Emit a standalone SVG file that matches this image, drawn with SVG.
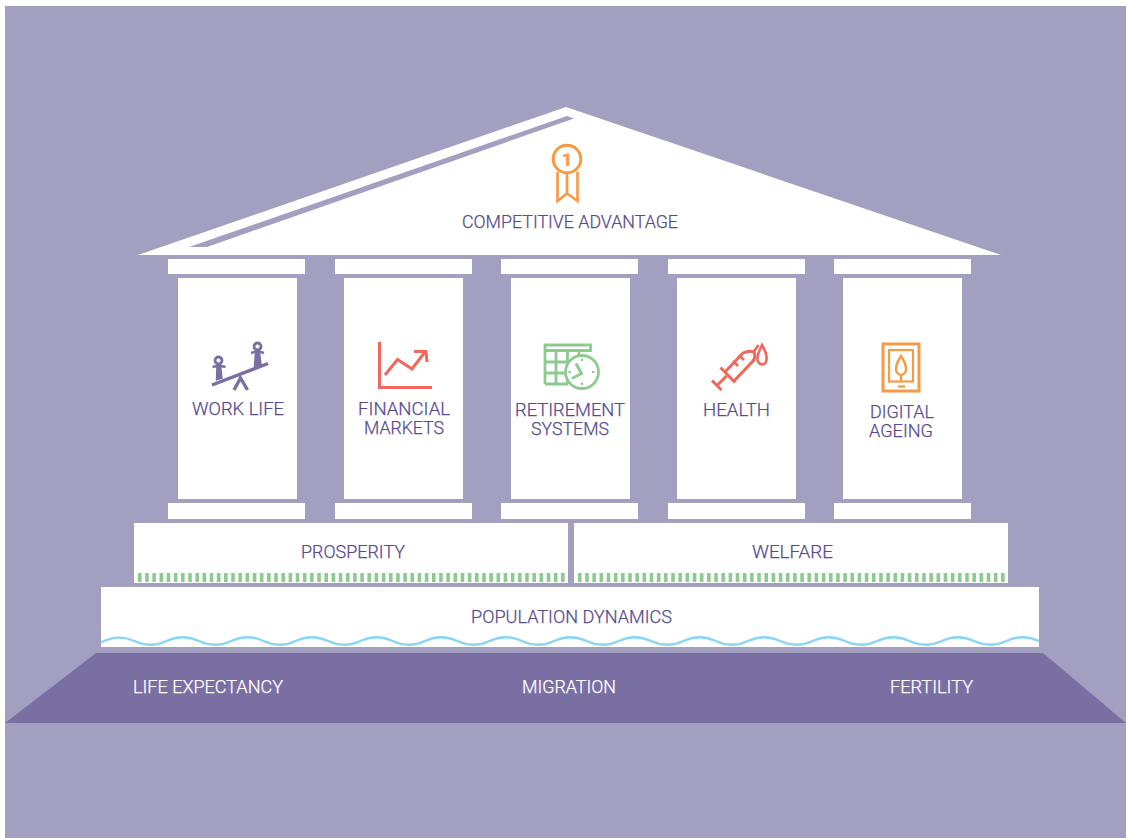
<svg xmlns="http://www.w3.org/2000/svg" width="1126" height="838" viewBox="0 0 1126 838">
<style>
.w{fill:#fff}
.bg{fill:#a39fc1}
text{font-family:"Roboto","Liberation Sans",sans-serif;font-weight:300;font-size:18px;fill:#574a8f;stroke:#574a8f;stroke-width:.25}
text.f{fill:#fff;stroke:#fff}
.i{fill:none;stroke-linecap:butt;stroke-linejoin:miter}
.p{stroke:#7a6fa3;stroke-width:3.4}
.r{stroke:#f2675c;stroke-width:3}
.g{stroke:#8ccb8e;stroke-width:2.8}
.o{stroke:#f79a45;stroke-width:3}
.h{fill:none;stroke:#8ccb8e;stroke-width:9;stroke-dasharray:3.6 3.57}
</style>
<rect width="1126" height="838" fill="#fff"/>
<rect class="bg" x="5" y="6" width="1121" height="832"/>
<g id="foundation">
<path d="M96 653H1043L1126 723H5Z" fill="#7a6fa3"/>
<text class="f" x="133" y="693" textLength="150" lengthAdjust="spacingAndGlyphs">LIFE EXPECTANCY</text>
<text class="f" x="522" y="693" textLength="94" lengthAdjust="spacingAndGlyphs">MIGRATION</text>
<text class="f" x="890" y="693" textLength="83" lengthAdjust="spacingAndGlyphs">FERTILITY</text>
</g>
<g id="population-dynamics">
<rect class="w" x="101" y="587" width="938" height="60"/>
<path d="M101 642.500Q118 633.500 134.300 641T166.600 641T198.900 641T231.200 641T263.500 641T295.800 641T328.100 641T360.400 641T392.700 641T425 641T457.300 641T489.600 641T521.900 641T554.200 641T586.500 641T618.800 641T651.100 641T683.400 641T715.700 641T748 641T780.300 641T812.600 641T844.900 641T877.200 641T909.500 641T941.800 641T974.100 641T1006.400 641T1039 641" fill="none" stroke="#88d5f5" stroke-width="2.400"/>
<text x="471" y="623" textLength="201" lengthAdjust="spacingAndGlyphs">POPULATION DYNAMICS</text>
</g>
<g id="prosperity">
<rect class="w" x="134" y="523" width="434" height="60"/>
<path class="h" d="M138 577.500H566"/>
<text x="301" y="558" textLength="104" lengthAdjust="spacingAndGlyphs">PROSPERITY</text>
</g>
<g id="welfare">
<rect class="w" x="574" y="523" width="434" height="60"/>
<path class="h" d="M578 577.500H1007"/>
<text x="752" y="558" textLength="81" lengthAdjust="spacingAndGlyphs">WELFARE</text>
</g>
<g id="pediment">
<path class="w" d="M566 107L1001 255H138Z"/>
<path class="bg" d="M567 116L574 118.500L207 247H189Z"/>
<g class="i o">
<circle cx="567" cy="159" r="13.800"/>
<path d="M557.500 172V201L567 193.500L577.500 201V172M567 172V193" stroke-width="2.600"/>
</g>
<text x="567" y="166" text-anchor="middle" style="font-size:19px;font-weight:800;fill:#f79a45;stroke:none">1</text>
<text x="462" y="228" textLength="216" lengthAdjust="spacingAndGlyphs">COMPETITIVE ADVANTAGE</text>
</g>
<g id="work-life">
<rect class="w" x="168" y="259" width="137" height="15"/>
<rect class="w" x="178" y="278" width="119" height="221"/>
<rect class="w" x="168" y="503" width="137" height="16"/>
<g class="i p">
<path d="M212 385L268 363.500M234 390L240.500 378L247.500 390"/>
<path d="M212.500 367L218.500 365.500L225.500 367" stroke-width="2.400"/>
<path d="M216.500 380.500L217 365.500H220.500L222 379" fill="#7a6fa3" stroke-width="1.500"/>
<circle cx="218.500" cy="360.500" r="3.500" stroke-width="2.800"/>
<path d="M251 353L257.500 351L264 353" stroke-width="2.400"/>
<path d="M254.500 367L255.500 352H259.500L261 365" fill="#7a6fa3" stroke-width="1.500"/>
<circle cx="257.500" cy="346.500" r="3.500" stroke-width="2.800"/>
</g>
<text x="192" y="415" textLength="92" lengthAdjust="spacingAndGlyphs">WORK LIFE</text>
</g>
<g id="financial-markets">
<rect class="w" x="335" y="259" width="137" height="15"/>
<rect class="w" x="344" y="278" width="119" height="221"/>
<rect class="w" x="335" y="503" width="137" height="16"/>
<g class="i r">
<path d="M379.500 342V387.500H432"/>
<path d="M385 375L397.500 359.500L412 369L425 352"/>
<path d="M414 351.500H426L427 362"/>
</g>
<text x="358" y="415" textLength="92" lengthAdjust="spacingAndGlyphs">FINANCIAL</text>
<text x="364" y="434" textLength="80" lengthAdjust="spacingAndGlyphs">MARKETS</text>
</g>
<g id="retirement-systems">
<rect class="w" x="501" y="259" width="137" height="15"/>
<rect class="w" x="511" y="278" width="119" height="221"/>
<rect class="w" x="501" y="503" width="137" height="16"/>
<g class="i g">
<path d="M545 384V345H590.500V352M545 350.500H590.500M545 362H575M545 373H566M545 384H568M556 351V384M567.500 351V384M579 351V358"/>
<circle cx="582" cy="372" r="16.500" fill="#fff"/>
<path d="M576 363.500L581.500 373.500L572 378.500" stroke-width="3"/>
<path d="M582 358.500V361M594.500 372H592M582 385V382.500M568.500 372H571" stroke-width="2.200"/>
</g>
<text x="515" y="416" textLength="110" lengthAdjust="spacingAndGlyphs">RETIREMENT</text>
<text x="531" y="435" textLength="78" lengthAdjust="spacingAndGlyphs">SYSTEMS</text>
</g>
<g id="health">
<rect class="w" x="668" y="259" width="137" height="15"/>
<rect class="w" x="677" y="278" width="119" height="221"/>
<rect class="w" x="668" y="503" width="137" height="16"/>
<g class="i r">
<path d="M712 380.500L721.500 390M717 385.500L726.500 376"/>
<path d="M720.500 367.500L735 382.500"/>
<path d="M725 372L743 353Q749 350 754 352Q756 357 753 361L734 381"/>
<path d="M753.500 352L758.500 345M733 361L738 366M739 355L744 360" stroke-width="2.600"/>
<path d="M762 345C758.500 352 757 356 757.500 359.500C758.500 366 766 366 766.500 359.500C767 356 765.500 351 762 345Z" stroke-width="2.600"/>
</g>
<text x="703" y="416" textLength="67" lengthAdjust="spacingAndGlyphs">HEALTH</text>
</g>
<g id="digital-ageing">
<rect class="w" x="834" y="259" width="137" height="15"/>
<rect class="w" x="843" y="278" width="119" height="221"/>
<rect class="w" x="834" y="503" width="137" height="16"/>
<g class="i o">
<rect x="883" y="344" width="36" height="47"/>
<rect x="889" y="350" width="24" height="31.500" stroke-width="2.200"/>
<path d="M901 356C897 362 896 365 896 369C896 372.500 898.500 375 901 375C903.500 375 906 372.500 906 369C906 365 905 362 901 356ZM901 375V381" stroke-width="2.400"/>
<path d="M898 386.500H905" stroke-width="2.400"/>
</g>
<text x="870" y="418" textLength="64" lengthAdjust="spacingAndGlyphs">DIGITAL</text>
<text x="869" y="437" textLength="64" lengthAdjust="spacingAndGlyphs">AGEING</text>
</g>
</svg>
